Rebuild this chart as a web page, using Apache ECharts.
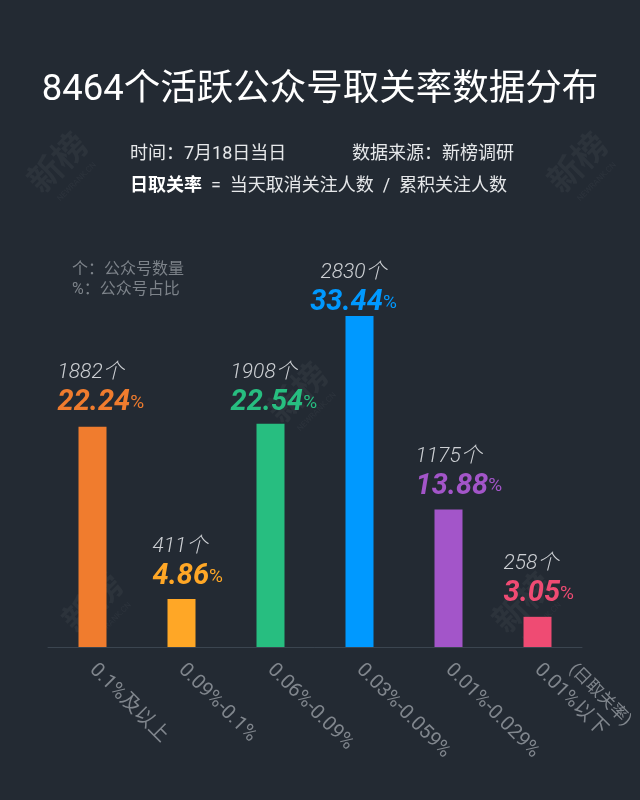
<!DOCTYPE html>
<html>
<head>
<meta charset="utf-8">
<script src="https://cdn.jsdelivr.net/npm/echarts@6/dist/echarts.min.js"></script>
<style>
html,body{margin:0;padding:0;background:#232a33;}
#main{width:640px;height:800px;}
</style>
</head>
<body>
<div id="main"></div>
<script>
// ---- data ----
const categories = ['0.1%及以上', '0.09%-0.1%', '0.06%-0.09%', '0.03%-0.059%', '0.01%-0.029%', '0.01%以下'];
const axisNote = '(日取关率)';
const counts = [1882, 411, 1908, 2830, 1175, 258];
const percents = ['22.24', '4.86', '22.54', '33.44', '13.88', '3.05'];

// ---- style ----
const colors = ['#f07c2e', '#ffa726', '#27be80', '#0099ff', '#a355c9', '#ef4b73'];
const FONT = "Roboto, 'Noto Sans CJK SC', sans-serif";
const labelStyles = [
  {align: 'left', offset: [-35, -3]},
  {align: 'left', offset: [-29, -1]},
  {align: 'left', offset: [-40, 0]},
  {align: 'center', offset: [-6, 8]},
  {align: 'left', offset: [-33, -2]},
  {align: 'left', offset: [-34, -2]}
];
const AXIS_MARGIN = 20;

const seriesData = counts.map((v, i) => ({
  value: v,
  itemStyle: {color: colors[i]},
  label: {
    align: labelStyles[i].align,
    offset: labelStyles[i].offset,
    formatter: '{c|' + v + '个}\n{p|' + percents[i] + '}{s|%}',
    rich: {
      c: {fontSize: 21, fontStyle: 'italic', fontWeight: 300, color: '#cdd0d4', fontFamily: FONT, lineHeight: 28},
      p: {fontSize: 29, fontStyle: 'italic', fontWeight: 'bold', color: colors[i], fontFamily: FONT, lineHeight: 32},
      s: {fontSize: 19, color: colors[i], fontFamily: FONT, lineHeight: 32}
    }
  }
}));

function watermark(x, y) {
  return {
    type: 'group', x: x, y: y, rotation: Math.PI / 4, silent: true,
    children: [
      {type: 'text', style: {text: '新榜', x: 0, y: 0, fontSize: 34, fontWeight: 'bold', fill: 'rgba(255,255,255,0.045)', fontFamily: FONT, textAlign: 'center', textVerticalAlign: 'middle'}},
      {type: 'text', style: {text: 'NEWRANK.CN', x: 0, y: 24, fontSize: 8, fill: 'rgba(255,255,255,0.045)', fontFamily: FONT, textAlign: 'center', textVerticalAlign: 'middle'}}
    ]
  };
}

const chart = echarts.init(document.getElementById('main'));
const baseGraphics = [
  watermark(60, 165), watermark(580, 165), watermark(300, 395), watermark(95, 605), watermark(525, 605),
  {type: 'text', left: 130, top: 146, style: {text: '时间：7月18日当日', fontSize: 18, fill: '#e6e8ea', fontFamily: FONT}},
  {type: 'text', left: 352, top: 146, style: {text: '数据来源：新榜调研', fontSize: 18, fill: '#e6e8ea', fontFamily: FONT}},
  {type: 'text', left: 130, top: 178, style: {
    text: '{b|日取关率}  =  当天取消关注人数  /  累积关注人数',
    fontSize: 18, fill: '#e6e8ea', fontFamily: FONT,
    rich: {b: {fontSize: 18, fontWeight: 'bold', fill: '#ffffff', fontFamily: FONT}}
  }},
  {type: 'text', left: 72, top: 260, style: {text: '个：公众号数量\n%：公众号占比', fontSize: 16, lineHeight: 20, fill: '#7d838a', fontFamily: FONT}}
];
chart.setOption({
  backgroundColor: '#232a33',
  animation: false,
  title: {
    text: '8464个活跃公众号取关率数据分布',
    left: 'center', top: 68,
    textStyle: {color: '#ffffff', fontSize: 36.5, fontWeight: 'normal', fontFamily: FONT}
  },
  grid: {left: 48, right: 58, top: 296, bottom: 153},
  xAxis: {
    type: 'category',
    data: categories,
    axisLine: {lineStyle: {color: '#3b4550', width: 1}},
    axisTick: {show: false},
    axisLabel: {rotate: -45, color: '#80868d', fontSize: 20, fontFamily: FONT, margin: AXIS_MARGIN, interval: 0}
  },
  yAxis: {type: 'value', min: 0, max: 3000, show: false, splitLine: {show: false}},
  series: [{
    type: 'bar',
    data: seriesData,
    barWidth: 28,
    label: {show: true, position: 'top', distance: 5}
  }],
  graphic: baseGraphics
});

// note attached to the last axis label, positioned from the library's own scale
const last = categories.length - 1;
const p = chart.convertToPixel({xAxisIndex: 0, yAxisIndex: 0}, [last, 0]);
chart.setOption({
  graphic: baseGraphics.concat([{
    type: 'text', x: p[0] + 34, y: p[1] + AXIS_MARGIN, rotation: -Math.PI / 4, silent: true,
    style: {text: axisNote, fontSize: 17, fill: '#80868d', fontFamily: FONT, textAlign: 'left', textVerticalAlign: 'middle'}
  }])
});
</script>
</body>
</html>
